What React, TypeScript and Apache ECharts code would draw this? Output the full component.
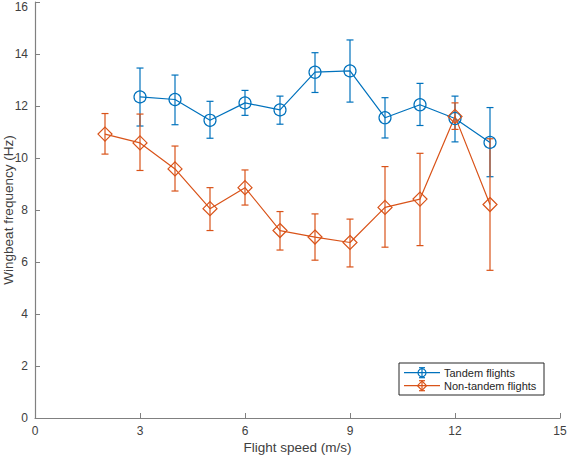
import React, { useEffect, useRef } from "react";
import * as echarts from "echarts";

// Flight speed (m/s) and wingbeat frequency (Hz): mean with error-bar bounds
const tandemSpeed = [3, 4, 5, 6, 7, 8, 9, 10, 11, 12, 13];
const tandemMean = [12.35, 12.25, 11.45, 12.12, 11.85, 13.3, 13.35, 11.55, 12.05, 11.52, 10.6];
const tandemLow = [11.23, 11.28, 10.76, 11.64, 11.3, 12.52, 12.15, 10.77, 11.25, 10.62, 9.28];
const tandemHigh = [13.46, 13.19, 12.18, 12.6, 12.38, 14.05, 14.54, 12.32, 12.87, 12.38, 11.94];

const nonTandemSpeed = [2, 3, 4, 5, 6, 7, 8, 9, 10, 11, 12, 13];
const nonTandemMean = [10.92, 10.58, 9.58, 8.05, 8.86, 7.21, 6.96, 6.75, 8.1, 8.42, 11.6, 8.21];
const nonTandemLow = [10.15, 9.52, 8.73, 7.21, 8.19, 6.46, 6.07, 5.81, 6.57, 6.63, 11.1, 5.68];
const nonTandemHigh = [11.71, 11.69, 10.46, 8.86, 9.54, 7.94, 7.85, 7.65, 9.67, 10.18, 12.12, 10.74];

const xTicks = { min: 0, max: 15, interval: 3 };
const yTicks = { min: 0, max: 16, interval: 2 };

const BLUE = "#0072BD";
const ORANGE = "#D95319";
const FONT = "Liberation Sans, Arial, Helvetica, sans-serif";
const LABEL_COLOR = "#404040";

function errorBarSeries(name: string, xs: number[], lo: number[], hi: number[], color: string) {
  return {
    name: name + " error",
    type: "custom",
    silent: true,
    z: 2,
    data: xs.map((x, i) => [x, lo[i], hi[i]]),
    renderItem: (_params: any, api: any) => {
      const top = api.coord([api.value(0), api.value(2)]);
      const bot = api.coord([api.value(0), api.value(1)]);
      const half = 3.5;
      const style = { stroke: color, lineWidth: 1.2 };
      return {
        type: "group",
        children: [
          { type: "line", shape: { x1: top[0], y1: top[1], x2: bot[0], y2: bot[1] }, style },
          { type: "line", shape: { x1: top[0] - half, y1: top[1], x2: top[0] + half, y2: top[1] }, style },
          { type: "line", shape: { x1: bot[0] - half, y1: bot[1], x2: bot[0] + half, y2: bot[1] }, style },
        ],
      };
    },
  };
}

function legendEntry(y: number, color: string, label: string, marker: any) {
  const cx = 422;
  const s = { stroke: color, lineWidth: 1.2, fill: "none" };
  return [
    { type: "line", shape: { x1: 404, y1: y, x2: 440, y2: y }, style: s },
    { type: "line", shape: { x1: cx, y1: y - 5, x2: cx, y2: y + 5 }, style: s },
    { type: "line", shape: { x1: cx - 3, y1: y - 5, x2: cx + 3, y2: y - 5 }, style: s },
    { type: "line", shape: { x1: cx - 3, y1: y + 5, x2: cx + 3, y2: y + 5 }, style: s },
    marker,
    {
      type: "text",
      x: 444,
      y,
      style: { text: label, fill: "#262626", font: `11px ${FONT}`, textVerticalAlign: "middle" },
    },
  ];
}

export default function App() {
  const ref = useRef<HTMLDivElement>(null);

  useEffect(() => {
    if (!ref.current) return;
    const chart = echarts.init(ref.current, null, { renderer: "svg" });
    const axisCommon = {
      axisLine: { show: true, lineStyle: { color: "#808080", width: 1.2 } },
      axisTick: { show: true, inside: true, length: 5, lineStyle: { color: "#808080" } },
      axisLabel: { color: LABEL_COLOR, fontSize: 12, fontFamily: FONT },
      splitLine: { show: false },
      nameTextStyle: { color: LABEL_COLOR, fontSize: 13.5, fontFamily: FONT },
      nameMoveOverlap: false,
    };
    chart.setOption({
      animation: false,
      backgroundColor: "#ffffff",
      grid: { left: 35, right: 9, top: 2, bottom: 41, containLabel: false, outerBoundsMode: "none" },
      xAxis: {
        type: "value",
        ...xTicks,
        ...axisCommon,
        name: "Flight speed (m/s)",
        nameLocation: "middle",
        nameGap: 22,
        axisLabel: { ...axisCommon.axisLabel, margin: 7 },
      },
      yAxis: {
        type: "value",
        ...yTicks,
        ...axisCommon,
        name: "Wingbeat frequency (Hz)",
        nameLocation: "middle",
        nameGap: 20,
        axisLabel: {
          ...axisCommon.axisLabel,
          margin: 7,
          // the top label sits right at the canvas edge, so nudge it down to keep it whole
          formatter: (v: number) => (v === yTicks.max ? `{top|${v}}` : String(v)),
          rich: {
            top: { padding: [9, 0, 0, 0], fontSize: 12, fontFamily: FONT, color: LABEL_COLOR },
          },
        },
      },
      series: [
        errorBarSeries("Tandem flights", tandemSpeed, tandemLow, tandemHigh, BLUE),
        {
          name: "Tandem flights",
          type: "line",
          z: 3,
          data: tandemSpeed.map((x, i) => [x, tandemMean[i]]),
          symbol: "circle",
          symbolSize: 12,
          lineStyle: { color: BLUE, width: 1.2 },
          itemStyle: { color: "rgba(0,0,0,0)", borderColor: BLUE, borderWidth: 1.2 },
        },
        errorBarSeries("Non-tandem flights", nonTandemSpeed, nonTandemLow, nonTandemHigh, ORANGE),
        {
          name: "Non-tandem flights",
          type: "line",
          z: 3,
          data: nonTandemSpeed.map((x, i) => [x, nonTandemMean[i]]),
          symbol: "diamond",
          symbolSize: 14,
          lineStyle: { color: ORANGE, width: 1.2 },
          itemStyle: { color: "rgba(0,0,0,0)", borderColor: ORANGE, borderWidth: 1.2 },
        },
      ],
      graphic: [
        {
          type: "rect",
          shape: { x: 399, y: 363, width: 145, height: 32 },
          style: { fill: "#ffffff", stroke: "#262626", lineWidth: 1 },
        },
        ...legendEntry(372.7, BLUE, "Tandem flights", {
          type: "circle",
          shape: { cx: 422, cy: 372.7, r: 4 },
          style: { stroke: BLUE, lineWidth: 1.2, fill: "none" },
        }),
        ...legendEntry(385.7, ORANGE, "Non-tandem flights", {
          type: "polygon",
          shape: { points: [[422, 381], [426.5, 385.7], [422, 390.4], [417.5, 385.7]] },
          style: { stroke: ORANGE, lineWidth: 1.2, fill: "none" },
        }),
      ],
    });
    return () => chart.dispose();
  }, []);

  return <div ref={ref} style={{ width: 569, height: 459, position: "absolute", left: 0, top: 0 }} />;
}
